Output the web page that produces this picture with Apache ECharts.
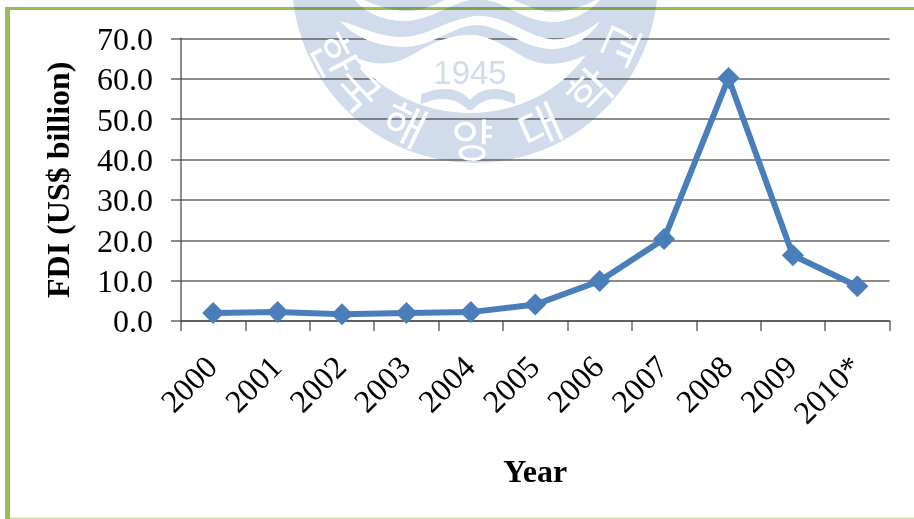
<!DOCTYPE html>
<html>
<head>
<meta charset="utf-8">
<style>html,body{margin:0;padding:0;background:#fff}#chart{width:914px;height:519px}</style>
<script src="https://cdn.jsdelivr.net/npm/echarts@6/dist/echarts.min.js"></script>
</head>
<body>
<div id="chart"></div>
<script>
// Yearly FDI, US$ billion
const years = ['2000','2001','2002','2003','2004','2005','2006','2007','2008','2009','2010*'];
const fdi = [2.0, 2.2, 1.7, 2.0, 2.2, 4.1, 9.9, 20.3, 60.2, 16.3, 8.6];

const SERIF = '"Liberation Serif","Times New Roman",serif';
const SEAL = '#d0dcec';
const FRAME = '#9bbb59';

// Outlines of the seal's inner field, its two wave crests and the open book
const outlines = {
  sealField:'M353,56 C372,66 392,66 410,56 C432,42 452,34 472,35 C495,36 512,52 530,60 C548,67 566,64 586,55 C560,92 515,113 470,113 C425,113 380,92 353,56 Z',
  sealWaveLow:'M340,21 C360,26 375,36 400,37 C425,38 445,20 475,16 C505,14 525,36 550,39 C570,41 585,32 600,21 C590,38 570,50 550,49 C520,47 505,27 478,25 C452,25 435,46 405,47 C380,47 355,38 340,21 Z',
  sealWaveHigh:'M350,-6 C368,2 385,10 405,11 C430,12 448,-6 475,-9 C505,-10 525,10 550,12 C570,13 590,4 605,-6 C592,12 570,23 550,22 C520,20 505,0 478,-1 C452,0 435,20 405,21 C382,21 362,12 350,-6 Z',
  sealBook:'M421,94 C440,87 458,86 470,100 C482,86 500,87 515,94 L515,104 C498,96 484,97 472,110 L468,110 C456,97 440,96 421,104 Z'
};
Object.keys(outlines).forEach(function(name){
  echarts.graphic.registerShape(name, echarts.graphic.extendPath(outlines[name], {}));
});

// University seal behind the plot: ring with wave crests, the founding year and an open book
const sealX = 475, sealY = -20;
const ringText = [['한',-62],['국',-47],['해',-26],['양',-1],['대',24],['학',46],['교',66]];
const ringRadius = 160;

const sealParts = [
  {type:'circle', shape:{cx:sealX, cy:sealY, r:183}, style:{fill:SEAL}, z:0},
  {type:'sealField', z:1, style:{fill:'#fff'}},
  {type:'sealWaveLow', z:1, style:{fill:'#fff'}},
  {type:'sealWaveHigh', z:1, style:{fill:'#fff'}},
  {type:'sealBook', z:2, style:{fill:SEAL}},
  {type:'text', z:2, x:470, y:75, style:{text:'1945', fill:SEAL, font:'33px "Liberation Sans",Arial,sans-serif', align:'center', verticalAlign:'middle'}}
];
ringText.forEach(function(item){
  const a = item[1] * Math.PI / 180;
  sealParts.push({
    type:'text', z:2, rotation:a,
    x: sealX + ringRadius * Math.sin(a),
    y: sealY + ringRadius * Math.cos(a),
    style:{text:item[0], fill:'#fff', font:'46px "Noto Sans CJK KR",sans-serif', align:'center', verticalAlign:'middle'}
  });
});

// Slide frame: green rules on the left, top and bottom
const frameParts = [
  {type:'rect', z:3, shape:{x:5, y:7, width:909, height:3}, style:{fill:FRAME, blend:'multiply'}},
  {type:'rect', z:3, shape:{x:5, y:10, width:5, height:509}, style:{fill:FRAME, blend:'multiply'}},
  {type:'rect', z:3, shape:{x:10, y:517.5, width:904, height:1.5}, style:{fill:'#cfdcaa', blend:'multiply'}}
];

const axisGray = 'rgba(70,70,70,0.62)';
const chart = echarts.init(document.getElementById('chart'));
chart.setOption({
  animation:false,
  backgroundColor:'#fff',
  graphic:{elements:sealParts.concat(frameParts)},
  grid:{left:181, right:24.5, top:38.5, bottom:198},
  xAxis:{
    type:'category', data:years, boundaryGap:true,
    name:'Year', nameLocation:'middle', nameGap:137,
    nameTextStyle:{fontFamily:SERIF, fontWeight:'bold', fontSize:32, color:'#000'},
    axisLine:{show:true, lineStyle:{color:axisGray, width:2}},
    axisTick:{show:true, length:10, alignWithLabel:false, lineStyle:{color:axisGray, width:2}},
    axisLabel:{rotate:45, margin:42, interval:0, fontFamily:SERIF, fontSize:32, color:'#000'},
    splitLine:{show:false}
  },
  yAxis:{
    type:'value', min:0, max:70, interval:10,
    name:'FDI (US$ billion)', nameLocation:'middle', nameGap:104,
    nameTextStyle:{fontFamily:SERIF, fontWeight:'bold', fontSize:32, color:'#000'},
    axisLine:{show:true, lineStyle:{color:axisGray, width:2}},
    axisTick:{show:true, length:10, lineStyle:{color:axisGray, width:2}},
    axisLabel:{margin:28, verticalAlign:'top', lineHeight:6, fontFamily:SERIF, fontSize:32, color:'#000', formatter:function(v){return v.toFixed(1);}},
    splitLine:{show:true, lineStyle:{color:axisGray, width:2}}
  },
  series:[{
    type:'line', data:fdi, z:5,
    symbol:'diamond', symbolSize:22,
    lineStyle:{color:'#4a7ebb', width:6, join:'miter'},
    itemStyle:{color:'#4a7ebb'}
  }]
});
</script>
</body>
</html>
